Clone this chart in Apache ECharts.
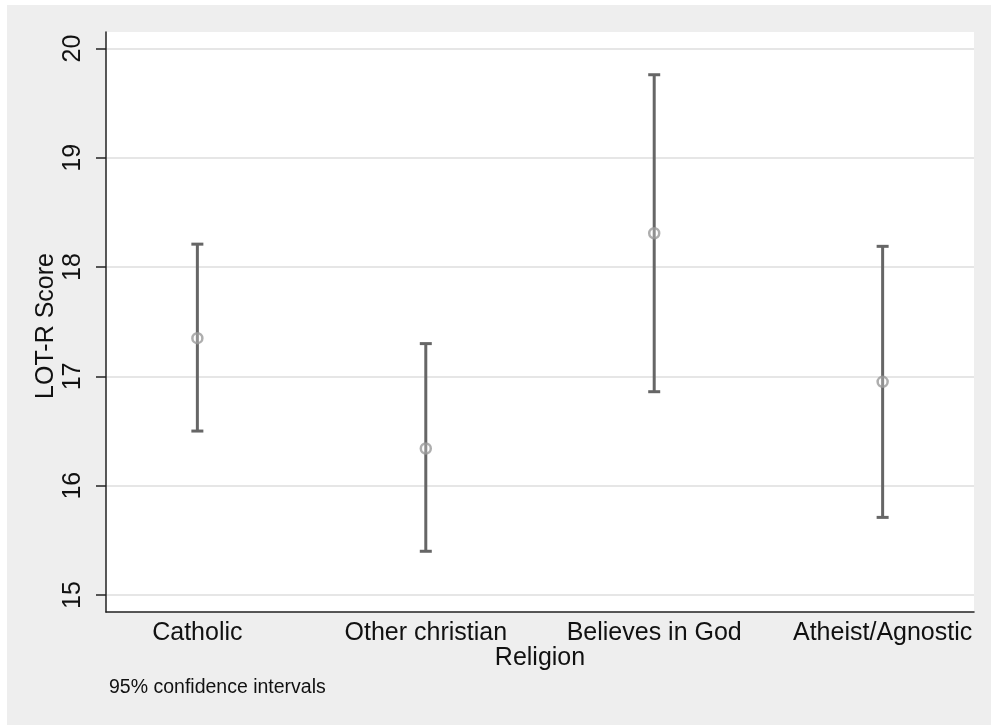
<!DOCTYPE html>
<html>
<head>
<meta charset="utf-8">
<script src="https://cdn.jsdelivr.net/npm/echarts@6/dist/echarts.min.js"></script>
<style>
  html, body { margin: 0; padding: 0; background: #ffffff; }
  #chart { width: 991px; height: 725px; }
</style>
</head>
<body>
<div id="chart"></div>
<script>
// Mean LOT-R score by religion with 95% confidence intervals
const categories = ['Catholic', 'Other christian', 'Believes in God', 'Atheist/Agnostic'];
const means = [17.35, 16.34, 18.31, 16.95];
const lower = [16.50, 15.40, 16.86, 15.71];
const upper = [18.21, 17.30, 19.76, 18.19];
const yTicks = [15, 16, 17, 18, 19, 20];

const FONT = '"Liberation Sans", Arial, sans-serif';
const TEXT = '#111111';

const positions = categories.map((_, i) => i + 1);
const ciData = positions.map((p, i) => [p, lower[i], upper[i]]);
const meanData = positions.map((p, i) => [p, means[i]]);

const chart = echarts.init(document.getElementById('chart'), null, { renderer: 'canvas' });

chart.setOption({
  backgroundColor: 'transparent',
  animation: false,
  graphic: [
    { type: 'rect', left: 7, top: 5, shape: { width: 984, height: 720 }, style: { fill: '#eeeeee' }, z: -10, silent: true },
    {
      type: 'text', x: 46, y: 326, rotation: Math.PI / 2,
      style: { text: 'LOT-R Score', font: '25px ' + FONT, fill: TEXT, align: 'center', verticalAlign: 'middle' }
    },
    {
      type: 'text', x: 109, y: 688,
      style: { text: '95% confidence intervals', font: '19.5px ' + FONT, fill: TEXT, align: 'left', verticalAlign: 'middle' }
    }
  ],
  grid: [
    // plot region (white box with left and bottom axis lines)
    { left: 106, right: 17, top: 32, bottom: 113, show: true, backgroundColor: '#ffffff', borderWidth: 0 },
    // data region spanning the 15..20 scale
    { left: 106, right: 17, top: 48.5, bottom: 130 }
  ],
  xAxis: [
    {
      gridIndex: 0, type: 'value', min: 0, max: 1,
      axisLine: { show: true, lineStyle: { color: '#222', width: 1.5 } },
      axisTick: { show: false }, axisLabel: { show: false }, splitLine: { show: false },
      name: 'Religion', nameLocation: 'middle', nameGap: 34,
      nameTextStyle: { fontFamily: FONT, fontSize: 25, color: TEXT }
    },
    {
      gridIndex: 1, type: 'value', min: 0.6, max: 4.4,
      axisLine: { show: false }, axisTick: { show: false }, splitLine: { show: false },
      axisLabel: {
        show: true, customValues: positions, margin: 26,
        fontFamily: FONT, fontSize: 25, color: TEXT,
        formatter: v => categories[Math.round(v) - 1] || ''
      }
    }
  ],
  yAxis: [
    {
      gridIndex: 0, type: 'value', min: 0, max: 1,
      axisLine: { show: true, lineStyle: { color: '#222', width: 1.5 } },
      axisTick: { show: false }, axisLabel: { show: false }, splitLine: { show: false }
    },
    {
      gridIndex: 1, type: 'value', min: yTicks[0], max: yTicks[yTicks.length - 1], interval: 1,
      axisLine: { show: false },
      axisTick: { show: true, length: 10, lineStyle: { color: '#222', width: 1.5 } },
      axisLabel: { rotate: 90, margin: 20, fontFamily: FONT, fontSize: 25, color: TEXT },
      splitLine: { show: true, lineStyle: { color: '#e6e6e6', width: 2 } }
    }
  ],
  series: [
    {
      type: 'custom',
      xAxisIndex: 1, yAxisIndex: 1,
      data: ciData,
      renderItem: function (params, api) {
        const x = api.value(0);
        const lo = api.coord([x, api.value(1)]);
        const hi = api.coord([x, api.value(2)]);
        const half = 6;
        const style = { stroke: '#666666', lineWidth: 3, fill: null };
        return {
          type: 'group',
          children: [
            { type: 'line', shape: { x1: lo[0], y1: lo[1], x2: hi[0], y2: hi[1] }, style: style },
            { type: 'line', shape: { x1: lo[0] - half, y1: lo[1], x2: lo[0] + half, y2: lo[1] }, style: style },
            { type: 'line', shape: { x1: hi[0] - half, y1: hi[1], x2: hi[0] + half, y2: hi[1] }, style: style }
          ]
        };
      },
      z: 2
    },
    {
      type: 'scatter',
      xAxisIndex: 1, yAxisIndex: 1,
      data: meanData,
      symbol: 'circle',
      symbolSize: 10,
      itemStyle: { color: 'rgba(255,255,255,0.35)', borderColor: '#9a9a9a', borderWidth: 2.5 },
      z: 3
    }
  ]
});
</script>
</body>
</html>
